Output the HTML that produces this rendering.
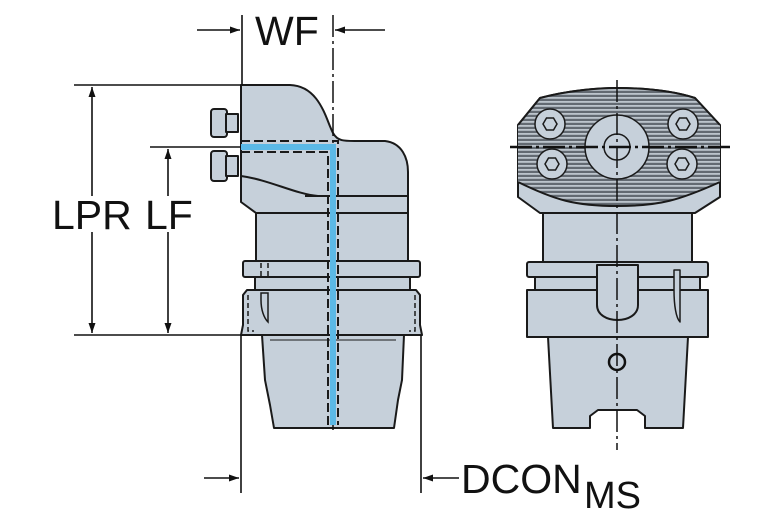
<!DOCTYPE html>
<html><head><meta charset="utf-8"><style>
html,body{margin:0;padding:0;background:#fff;}
svg{display:block;}
text{font-family:"Liberation Sans",Arial,sans-serif;fill:#111;}
</style></head><body>
<svg width="767" height="523" viewBox="0 0 767 523" xmlns="http://www.w3.org/2000/svg">
<defs>
<marker id="ah" viewBox="0 0 10 10" refX="10" refY="5" markerWidth="10" markerHeight="10" markerUnits="userSpaceOnUse" orient="auto-start-reverse">
<path d="M0,1.5 L10,5 L0,8.5 Z" fill="#111"/></marker>
<clipPath id="hc"><path d="M518,125 L540,98 C570,90 600,88 617,88 C640,88 670,90 695,98 L720,125 L720,182 C680,200 660,206 617,206 C575,206 555,200 518,182 Z"/></clipPath>
<pattern id="hp" width="10" height="4" patternUnits="userSpaceOnUse">
<rect width="10" height="4" fill="#636a72"/><rect y="1" width="10" height="1.8" fill="#bcc4cc"/></pattern>
</defs>
<g fill="#c6d0da" stroke="#1a1a1a" stroke-width="2" stroke-linejoin="round">
<rect x="211" y="109" width="16" height="28" rx="3"/>
<rect x="226" y="114" width="12" height="18"/>
<rect x="211" y="151" width="16" height="30" rx="3"/>
<rect x="226" y="156" width="12" height="20"/>
<path d="M241,85 L290,85 C320,86 326,120 333,133 C338,142 345,141 360,141 L385,141 C402,143 408,158 408,172 L408,213 L256,213 L241,202 Z"/>
<line x1="305" y1="196" x2="408" y2="196"/>
<path d="M241,176 C270,180 295,194 318,196" fill="none"/>
<rect x="256" y="213" width="152" height="49"/>
<rect x="243" y="261" width="177" height="16" rx="2"/>
<rect x="255" y="277" width="155" height="13"/>
<path d="M247,290 L416,290 L420,295 L420,325 L422,335 L241,335 L243,325 L243,295 Z"/>
<path d="M262,335 L404,335 L402,380 L398,400 L394,428 L274,428 L270,405 L265,380 Z"/>
<line x1="270" y1="340" x2="396" y2="340" stroke-width="1"/>
<path d="M518,125 L540,98 C570,90 600,88 617,88 C640,88 670,90 695,98 L720,125 L720,197 L695,213 L540,213 L518,197 Z"/>
<rect x="543" y="213" width="149" height="49"/>
<rect x="527" y="262" width="181" height="15" rx="2"/>
<rect x="535" y="277" width="165" height="13"/>
<rect x="527" y="290" width="181" height="47"/>
<path d="M548,337 L688,337 L683,428 L645,428 L645,416 L637,410 L598,410 L590,416 L590,428 L553,428 Z"/>
<path d="M597,265 L638,265 L638,305 C638,325 597,325 597,305 Z"/>
<path d="M674,270 L680,270 L680,322 C676,318 674,305 674,290 Z" stroke-width="1.5"/>
</g>
<g fill="none" stroke="#1a1a1a" stroke-width="1.5" stroke-dasharray="5,3">
<path d="M248,295 V331 H254 M415,295 V331 H409"/>
<path d="M261,263 V276 M268,263 V276"/>
</g>
<path d="M261,293 L268,293 L268,322 C264,318 261,310 261,300 Z" fill="none" stroke="#1a1a1a" stroke-width="1.5"/>
<rect x="515" y="85" width="210" height="125" fill="url(#hp)" clip-path="url(#hc)"/>
<path d="M518,125 L540,98 C570,90 600,88 617,88 C640,88 670,90 695,98 L720,125 M518,182 C555,200 575,206 617,206 C660,206 680,200 720,182" fill="none" stroke="#1a1a1a" stroke-width="2"/>
<g fill="#c6d0da" stroke="#1a1a1a" stroke-width="1.5">
<circle cx="617" cy="147" r="32"/>
<circle cx="617" cy="147" r="13" fill="none"/>
<circle cx="550" cy="124" r="15"/><circle cx="683" cy="124" r="15"/>
<circle cx="552" cy="164" r="15"/><circle cx="682" cy="164" r="15"/>
<polygon points="543,124 546.5,118 553.5,118 557,124 553.5,130 546.5,130" fill="none"/>
<polygon points="676,124 679.5,118 686.5,118 690,124 686.5,130 679.5,130" fill="none"/>
<polygon points="545,164 548.5,158 555.5,158 559,164 555.5,170 548.5,170" fill="none"/>
<polygon points="675,164 678.5,158 685.5,158 689,164 685.5,170 678.5,170" fill="none"/>
</g>
<circle cx="617" cy="362" r="8" fill="none" stroke="#111" stroke-width="2.5"/>
<g stroke="#111" stroke-width="1.5" fill="none" stroke-dasharray="22,4,3,4">
<line x1="617" y1="80" x2="617" y2="450"/>
<line x1="510" y1="147" x2="730" y2="147" stroke-width="2.5"/>
<line x1="333" y1="15" x2="333" y2="430"/>
</g>
<g fill="none">
<path d="M241,147 L333,147 L333,425" stroke="#5cb9e6" stroke-width="6"/>
<path d="M241,141 L338,141 L338,425 M241,152 L328,152 L328,425" stroke="#1a1a1a" stroke-width="2" stroke-dasharray="9,4"/>
</g>
<g stroke="#111" stroke-width="1.6" fill="none">
<line x1="242" y1="15" x2="242" y2="85"/>
<line x1="197" y1="30" x2="240" y2="30" marker-end="url(#ah)"/>
<line x1="385" y1="30" x2="335" y2="30" marker-end="url(#ah)"/>
<line x1="74" y1="85" x2="241" y2="85"/>
<line x1="74" y1="335" x2="241" y2="335"/>
<line x1="150" y1="147" x2="241" y2="147"/>
<line x1="92" y1="87" x2="92" y2="333" marker-start="url(#ah)" marker-end="url(#ah)"/>
<line x1="168" y1="149" x2="168" y2="333" marker-start="url(#ah)" marker-end="url(#ah)"/>
<line x1="241" y1="335" x2="241" y2="493"/>
<line x1="421" y1="335" x2="421" y2="493"/>
<line x1="204" y1="478" x2="239" y2="478" marker-end="url(#ah)"/>
<line x1="459" y1="478" x2="423" y2="478" marker-end="url(#ah)"/>
</g>
<rect x="82" y="196" width="50" height="36" fill="#fff"/>
<rect x="142" y="196" width="50" height="36" fill="#fff"/>
<text x="255" y="45" font-size="41">WF</text>
<text x="52" y="229" font-size="41">LPR</text>
<text x="145" y="229" font-size="41">LF</text>
<text x="461" y="493" font-size="41">DCON</text>
<text x="584" y="508" font-size="38">MS</text>
</svg>
</body></html>
